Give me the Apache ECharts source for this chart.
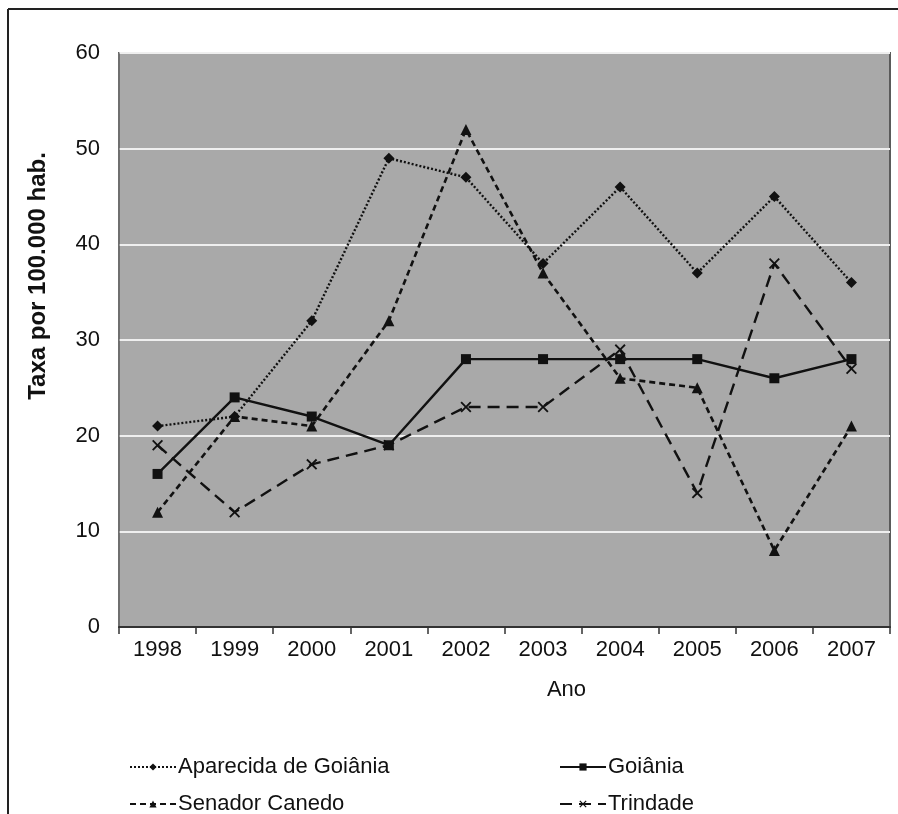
<!DOCTYPE html>
<html>
<head>
<meta charset="utf-8">
<title>Taxa por 100.000 hab.</title>
<script src="https://cdn.jsdelivr.net/npm/echarts@6/dist/echarts.min.js"></script>
<style>
  html, body { margin: 0; padding: 0; background: #fff; }
  #chart { width: 898px; height: 814px; }
</style>
</head>
<body>
<div id="chart"></div>
<script>
// Years on the category axis
const years = ['1998', '1999', '2000', '2001', '2002', '2003', '2004', '2005', '2006', '2007'];

// Rates per 100.000 inhabitants, one array per municipality
const aparecida = [21, 22, 32, 49, 47, 38, 46, 37, 45, 36];
const goiania = [16, 24, 22, 19, 28, 28, 28, 28, 26, 28];
const senadorCanedo = [12, 22, 21, 32, 52, 37, 26, 25, 8, 21];
const trindade = [19, 12, 17, 19, 23, 23, 29, 14, 38, 27];

const seriesNames = ['Aparecida de Goiânia', 'Goiânia', 'Senador Canedo', 'Trindade'];

const FONT = 'Liberation Sans, Arial, sans-serif';
const INK = '#111';

// filled "x" cross marker
const crossPath = 'path://M0,1.2 L1.2,0 L5,3.8 L8.8,0 L10,1.2 L6.2,5 L10,8.8 L8.8,10 L5,6.2 L1.2,10 L0,8.8 L3.8,5 Z';

function lineSeries(name, data, lineType, width, symbol, size) {
  return {
    name: name,
    type: 'line',
    data: data,
    symbol: symbol,
    symbolSize: size,
    showSymbol: true,
    lineStyle: { color: INK, width: width, type: lineType },
    itemStyle: { color: INK, borderWidth: 0 },
    emphasis: { disabled: true },
    z: 3
  };
}

// one legend box per entry, laid out in two columns and two rows
function legendItem(name, left, top) {
  return {
    data: [name],
    left: left,
    top: top,
    itemWidth: 46,
    itemHeight: 9,
    selectedMode: false,
    textStyle: { fontFamily: FONT, fontSize: 22, color: INK, padding: [0, 0, 0, -3] }
  };
}

const chart = echarts.init(document.getElementById('chart'), null, { renderer: 'canvas' });

chart.setOption({
  animation: false,
  backgroundColor: '#fff',
  textStyle: { fontFamily: FONT },
  grid: {
    left: 119, right: 8, top: 53, bottom: 187,
    show: true,
    backgroundColor: '#a9a9a9',
    borderColor: '#5a5a5a',
    borderWidth: 2
  },
  legend: [
    legendItem(seriesNames[0], 124, 751),
    legendItem(seriesNames[1], 554, 751),
    legendItem(seriesNames[2], 124, 788),
    legendItem(seriesNames[3], 554, 788)
  ],
  xAxis: {
    type: 'category',
    data: years,
    boundaryGap: true,
    name: 'Ano',
    nameLocation: 'middle',
    nameGap: 52,
    nameTextStyle: { fontFamily: FONT, fontSize: 22, color: INK, padding: [0, 0, 0, 124] },
    axisLine: { show: true, lineStyle: { color: '#333', width: 2 } },
    axisTick: { show: true, length: 7, lineStyle: { color: '#333', width: 1.5 } },
    axisLabel: { fontFamily: FONT, fontSize: 22, color: INK, margin: 12 },
    splitLine: { show: false }
  },
  yAxis: {
    type: 'value',
    min: 0,
    max: 60,
    interval: 10,
    axisLine: { show: true, lineStyle: { color: '#777', width: 1.5 } },
    axisTick: { show: false },
    axisLabel: { fontFamily: FONT, fontSize: 22, color: INK, margin: 19 },
    splitLine: { show: true, lineStyle: { color: '#efefef', width: 2 } }
  },
  graphic: [
    // outer frame (left and top edges)
    { type: 'line', shape: { x1: 8, y1: 9, x2: 8, y2: 814 }, style: { stroke: '#222', lineWidth: 2 }, silent: true },
    { type: 'line', shape: { x1: 8, y1: 9, x2: 898, y2: 9 }, style: { stroke: '#222', lineWidth: 2 }, silent: true },
    // y-axis title
    {
      type: 'text',
      x: 38, y: 276,
      rotation: Math.PI / 2,
      style: {
        text: 'Taxa por 100.000 hab.',
        fontFamily: FONT, fontSize: 24, fontWeight: 'bold', fill: INK,
        align: 'center', verticalAlign: 'middle'
      },
      silent: true
    }
  ],
  series: [
    lineSeries(seriesNames[0], aparecida, [2, 2], 2.4, 'diamond', 11),
    lineSeries(seriesNames[1], goiania, 'solid', 2.4, 'rect', 10),
    lineSeries(seriesNames[2], senadorCanedo, [6, 4], 2.6, 'triangle', 11),
    lineSeries(seriesNames[3], trindade, [12, 7], 2.4, crossPath, 11)
  ]
});
</script>
</body>
</html>
